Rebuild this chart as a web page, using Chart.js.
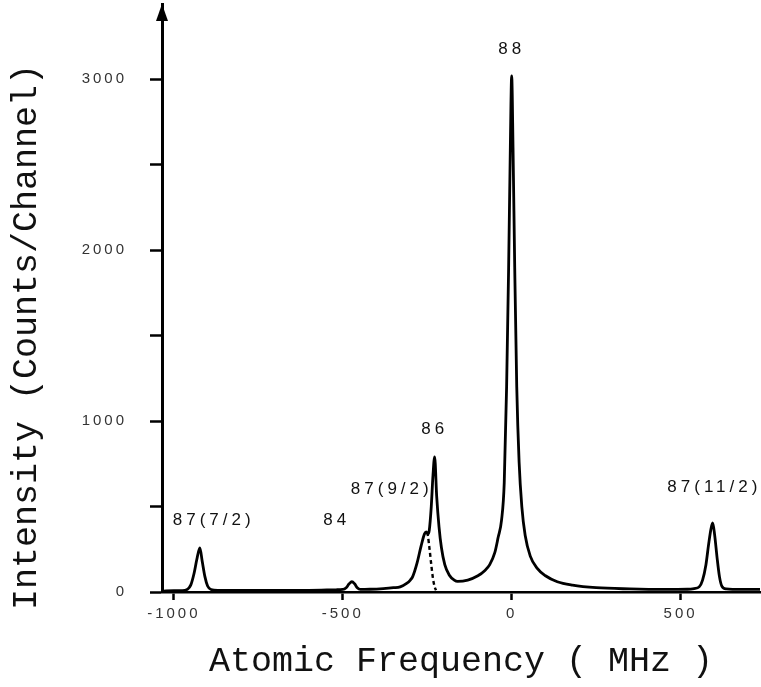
<!DOCTYPE html>
<html lang="en">
<head>
<meta charset="UTF-8">
<title>Spectrum</title>
<script src="https://cdn.jsdelivr.net/npm/chart.js"></script>
<style>
  body { margin: 0; background: #fff; }
</style>
</head>
<body>
<canvas id="spectrumCanvas" width="761" height="687"></canvas>
<script>
// trace: frequency (MHz) and counts per channel
const freq = [
  -1035, -1000, -975, -960, -950, -940, -932, -923, -916, -908, -900, -890, -870,
  -800, -700, -600, -520, -500, -490, -481, -473, -465, -457, -448,
  -420, -380, -350, -330, -311, -300, -293, -280, -268, -258, -253, -248, -244,
  -238, -233, -228, -222, -215, -208, -198, -185, -170, -160,
  -130, -100, -80, -65, -50, -40, -30, -22, -15, -9, -4, 0,
  4, 9, 15, 22, 30, 40, 55, 75, 100, 135, 180, 250, 350, 450, 520,
  540, 555, 565, 575, 583, 590, 595, 601, 608, 615, 622, 635, 680, 735
];
const counts = [
  5, 8, 8, 15, 40, 110, 190, 258, 180, 90, 35, 15, 10,
  10, 10, 10, 13, 15, 25, 48, 60, 48, 25, 15,
  16, 20, 25, 30, 50, 70, 90, 170, 270, 340, 352, 340, 360,
  500, 680, 790, 560, 380, 260, 160, 100, 70, 62,
  70, 95, 125, 160, 230, 320, 420, 640, 1200, 1900, 2600, 3020,
  2600, 1900, 1200, 760, 500, 330, 210, 140, 95, 60, 40, 25, 18, 15, 16,
  20, 30, 70, 160, 280, 370, 404, 330, 200, 90, 35, 18, 15, 15
];

// dashed flank under the 86 peak
const dashFreq = [-250, -248, -243, -238, -233, -228, -224];
const dashCounts = [350, 330, 250, 160, 80, 30, 10];

const xTickValues = [-1000, -500, 0, 500];
const yTickValues = [0, 500, 1000, 1500, 2000, 2500, 3000];

// peak labels
const peakNames = ['88', '86', '87(9/2)', '84', '87(7/2)', '87(11/2)'];
const peakNameX = [0, -228, -355, -518, -882, 600];
const peakNameY = [3175, 950, 598, 420, 420, 610];

const xTitle = 'Atomic Frequency ( MHz )';
const yTitle = 'Intensity (Counts/Channel)';

const extras = {
  id: 'extras',
  beforeDraw(chart) {
    chart.ctx.letterSpacing = '3px';
  },
  afterDraw(chart) {
    const { ctx, chartArea, scales } = chart;
    ctx.save();
    ctx.fillStyle = '#000';

    // arrow head on top of the y axis
    ctx.beginPath();
    ctx.moveTo(chartArea.left, chartArea.top);
    ctx.lineTo(chartArea.left - 6, chartArea.top + 17);
    ctx.lineTo(chartArea.left + 6, chartArea.top + 17);
    ctx.closePath();
    ctx.fill();

    // peak names
    ctx.font = '17px "Liberation Sans"';
    ctx.letterSpacing = '4px';
    ctx.textAlign = 'center';
    ctx.textBaseline = 'middle';
    ctx.fillStyle = '#111';
    for (let i = 0; i < peakNames.length; i++) {
      ctx.fillText(peakNames[i],
        scales.x.getPixelForValue(peakNameX[i]),
        scales.y.getPixelForValue(peakNameY[i]));
    }

    // axis titles
    ctx.font = '35px "Liberation Mono"';
    ctx.letterSpacing = '0px';
    ctx.fillText(xTitle, (chartArea.left + chartArea.right) / 2, 662);
    ctx.translate(27, 337);
    ctx.rotate(-Math.PI / 2);
    ctx.fillText(yTitle, 0, 0);
    ctx.restore();
  }
};

const tickFont = { family: '"Liberation Sans"', size: 15 };

new Chart(document.getElementById('spectrumCanvas'), {
  type: 'line',
  data: {
    datasets: [
      {
        data: freq.map((f, i) => ({ x: f, y: counts[i] })),
        borderColor: '#000',
        borderWidth: 2.8,
        pointRadius: 0,
        cubicInterpolationMode: 'monotone'
      },
      {
        data: dashFreq.map((f, i) => ({ x: f, y: dashCounts[i] })),
        borderColor: '#000',
        borderWidth: 2.4,
        borderDash: [4, 3],
        pointRadius: 0,
        cubicInterpolationMode: 'monotone'
      }
    ]
  },
  options: {
    responsive: false,
    animation: false,
    layout: { padding: { top: 4, right: 1 }, autoPadding: false },
    plugins: { legend: { display: false }, tooltip: { enabled: false } },
    scales: {
      x: {
        type: 'linear',
        min: -1035,
        max: 735,
        afterBuildTicks: s => { s.ticks = xTickValues.map(v => ({ value: v })); },
        afterFit: s => { s.height = 95; s.paddingLeft = 0; s.paddingRight = 0; },
        grid: { drawOnChartArea: false, tickLength: 8, tickWidth: 2.5, tickColor: '#000' },
        border: { color: '#000', width: 2.6 },
        ticks: { padding: 5, maxRotation: 0, color: '#333', font: tickFont, callback: v => String(v) }
      },
      y: {
        min: 0,
        max: 3440,
        afterBuildTicks: s => { s.ticks = yTickValues.map(v => ({ value: v })); },
        afterFit: s => { s.width = 162; s.paddingTop = 0; s.paddingBottom = 0; },
        grid: { drawOnChartArea: false, tickLength: 12, tickWidth: 2.5, tickColor: '#000' },
        border: { color: '#000', width: 3 },
        ticks: { padding: 23, color: '#333', font: tickFont, callback: v => (v % 1000 === 0 ? String(v) : '') }
      }
    }
  },
  plugins: [extras]
});
</script>
</body>
</html>
